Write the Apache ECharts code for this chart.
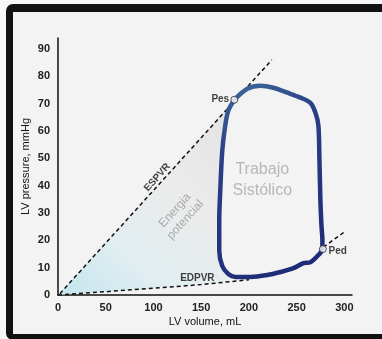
<!DOCTYPE html>
<html>
<head>
<meta charset="utf-8">
<script src="https://cdn.jsdelivr.net/npm/echarts@6/dist/echarts.min.js"></script>
<style>
  html, body { margin: 0; padding: 0; background: #f6f6f6; overflow: hidden; }
  #frame {
    position: absolute; left: 6px; top: 4px; width: 420px; height: 322px;
    border-style: solid; border-color: #111; border-width: 8px 7px 6px 7px;
    border-radius: 7px; background: #f3f3f3;
  }
  #chart { position: absolute; left: 0; top: 0; width: 382px; height: 339px; }
</style>
</head>
<body>
<div id="frame"></div>
<div id="chart"></div>
<script>
// PV loop (volume mL, pressure mmHg), traced clockwise from Pes
const loopPoints = [
  [184.7, 71.4], [198.3, 75.4], [212.0, 76.5], [225.6, 75.8], [240.3, 74.0],
  [253.9, 72.2], [264.4, 70.3], [269.7, 66.7], [272.8, 62.0], [273.9, 49.2],
  [274.9, 34.6], [276.0, 25.5], [277.0, 20.0], [277.0, 16.8], [272.8, 14.6],
  [264.4, 12.0], [257.1, 11.7], [246.6, 9.8], [233.0, 8.4], [219.3, 7.3],
  [201.5, 6.6], [185.7, 6.6], [178.4, 7.7], [172.1, 10.6], [168.9, 16.4],
  [168.9, 27.3], [170.0, 38.3], [172.1, 52.8], [175.2, 62.0], [178.4, 67.4],
  [184.7, 71.4]
];
const espvrLine = [[2, 0.5], [224, 86]];
const edpvrLine = [[0, 0], [50, 1.2], [100, 2.5], [150, 3.8], [200, 5.6], null, [278, 17.5], [301, 23.3]];
const energyArea = [
  [0, 0], [184.7, 71.4], [178.4, 67.4], [175.2, 62.0], [172.1, 52.8], [170.0, 38.3],
  [168.9, 27.3], [168.9, 16.4], [172.1, 10.6], [178, 7.2], [180, 4.9],
  [150, 3.8], [100, 2.5], [50, 1.2]
];
const pesPoint = [184.7, 71.4];
const pedPoint = [277.5, 16.8];

const chart = echarts.init(document.getElementById('chart'));
const font = 'Liberation Sans, Arial, sans-serif';

function label(x, y, text, style) {
  return {
    value: [x, y],
    label: Object.assign({ show: true, formatter: text, position: 'inside', fontFamily: font }, style)
  };
}

const option = {
  backgroundColor: 'transparent',
  animation: false,
  grid: { left: 58, right: 30, top: 38, bottom: 44 },
  xAxis: {
    type: 'value', min: 0, max: 308, interval: 50,
    name: 'LV volume, mL', nameLocation: 'middle', nameGap: 21, nameMoveOverlap: false,
    nameTextStyle: { fontFamily: font, fontSize: 11, color: '#111' },
    axisLine: { lineStyle: { color: '#111', width: 1.5 } },
    axisTick: { show: false },
    splitLine: { show: false },
    axisLabel: { fontFamily: font, fontSize: 11, fontWeight: 'bold', color: '#222', margin: 7, showMaxLabel: false }
  },
  yAxis: {
    type: 'value', min: 0, max: 94, interval: 10,
    name: 'LV pressure, mmHg', nameLocation: 'middle', nameGap: 27, nameMoveOverlap: false,
    nameTextStyle: { fontFamily: font, fontSize: 11, color: '#111' },
    axisLine: { show: true, lineStyle: { color: '#111', width: 1.5 } },
    axisTick: { show: false },
    splitLine: { show: false },
    axisLabel: { fontFamily: font, fontSize: 11, fontWeight: 'bold', color: '#222', margin: 8, showMaxLabel: false }
  },
  series: [
    {
      type: 'custom',
      silent: true,
      z: 1,
      renderItem: function (params, api) {
        const pts = energyArea.map(p => api.coord(p));
        return {
          type: 'polygon',
          shape: { points: pts },
          style: {
            fill: new echarts.graphic.LinearGradient(0, 1, 1, 0, [
              { offset: 0, color: '#c2e5ee' },
              { offset: 0.3, color: '#e2eef1' },
              { offset: 0.6, color: '#ebebeb' },
              { offset: 1, color: '#e3e3e3' }
            ])
          }
        };
      },
      data: [0]
    },
    {
      type: 'line', data: espvrLine, symbol: 'none', z: 3,
      lineStyle: { color: '#111', width: 1.5, type: [4, 3] }
    },
    {
      type: 'line', data: edpvrLine, symbol: 'none', z: 3, connectNulls: false,
      lineStyle: { color: '#111', width: 1.5, type: [4, 3] }
    },
    {
      type: 'line', data: loopPoints, symbol: 'none', smooth: 0.3, z: 4,
      lineStyle: {
        width: 4.5,
        color: new echarts.graphic.LinearGradient(0, 0, 1, 1, [
          { offset: 0, color: '#3f6f9e' },
          { offset: 0.3, color: '#2a3f86' },
          { offset: 1, color: '#1c2874' }
        ])
      }
    },
    {
      type: 'scatter', data: [pesPoint, pedPoint], symbol: 'circle', symbolSize: 7, z: 6,
      itemStyle: { color: '#fff', borderColor: '#223', borderWidth: 1 }
    },
    {
      type: 'scatter', symbolSize: 0, z: 7, silent: true,
      data: [
        label(104, 43, 'ESPVR', { rotate: 48, fontSize: 10, fontWeight: 'bold', color: '#111' }),
        label(128, 29.2, 'Energia\npotencial', { rotate: 48, fontSize: 12, color: '#999', lineHeight: 14 }),
        label(214, 42, 'Trabajo\nSistólico', { fontSize: 16, color: '#a8a8a8', lineHeight: 21 }),
        label(146, 6.3, 'EDPVR', { fontSize: 10, fontWeight: 'bold', color: '#111' }),
        label(170, 71.5, 'Pes', { fontSize: 10, fontWeight: 'bold', color: '#111' }),
        label(293, 16, 'Ped', { fontSize: 10, fontWeight: 'bold', color: '#111' })
      ]
    }
  ]
};

chart.setOption(option);
</script>
</body>
</html>
